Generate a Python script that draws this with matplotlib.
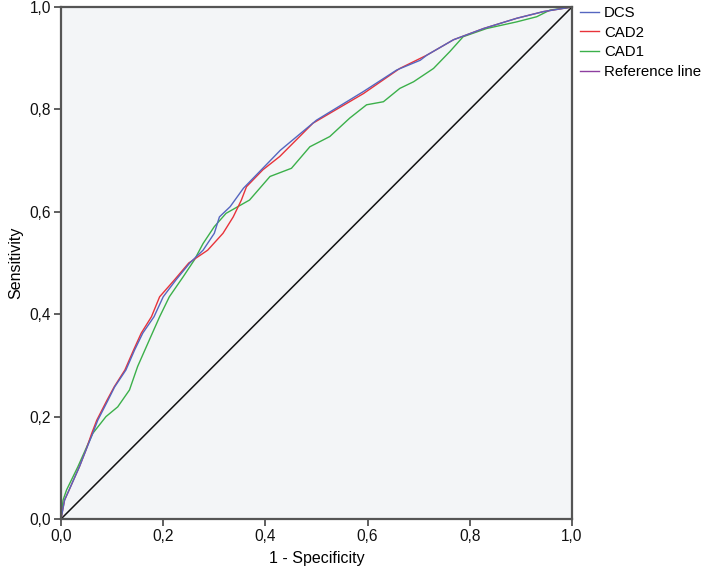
import matplotlib
matplotlib.use("Agg")
import matplotlib.pyplot as plt
from matplotlib.lines import Line2D
from matplotlib.ticker import FuncFormatter

plt.rcParams['font.family'] = ['Liberation Sans', 'DejaVu Sans']

# ROC points: (1 - specificity, sensitivity)
dcs_x = [0.0, 0.007, 0.016, 0.036, 0.049, 0.062, 0.072, 0.092, 0.105, 0.127, 0.144,
         0.160, 0.182, 0.200, 0.225, 0.252, 0.278, 0.300, 0.310, 0.331, 0.357, 0.429,
         0.500, 0.592, 0.657, 0.703, 0.716, 0.768, 0.827, 0.892, 0.944, 1.0]
dcs_y = [0.0, 0.037, 0.057, 0.102, 0.135, 0.167, 0.193, 0.232, 0.258, 0.291, 0.330,
         0.363, 0.395, 0.434, 0.467, 0.500, 0.525, 0.558, 0.590, 0.610, 0.646, 0.720,
         0.779, 0.835, 0.877, 0.896, 0.906, 0.936, 0.958, 0.978, 0.991, 1.0]

cad2_x = [0.0, 0.007, 0.016, 0.036, 0.049, 0.060, 0.070, 0.090, 0.104, 0.125, 0.142,
          0.157, 0.177, 0.193, 0.222, 0.250, 0.287, 0.317, 0.337, 0.353, 0.363, 0.395,
          0.428, 0.493, 0.592, 0.663, 0.716, 0.768, 0.827, 0.892, 0.944, 1.0]
cad2_y = [0.0, 0.037, 0.057, 0.102, 0.135, 0.167, 0.193, 0.232, 0.258, 0.291, 0.330,
          0.363, 0.395, 0.434, 0.467, 0.500, 0.525, 0.558, 0.590, 0.623, 0.649, 0.682,
          0.708, 0.773, 0.831, 0.880, 0.906, 0.936, 0.958, 0.978, 0.991, 1.0]

cad1_x = [0.0, 0.004, 0.011, 0.033, 0.062, 0.088, 0.111, 0.134, 0.150, 0.173, 0.193,
          0.212, 0.239, 0.261, 0.278, 0.300, 0.323, 0.369, 0.409, 0.451, 0.487, 0.526,
          0.565, 0.598, 0.631, 0.663, 0.690, 0.729, 0.761, 0.787, 0.833, 0.892, 0.931,
          0.957, 1.0]
cad1_y = [0.0, 0.037, 0.057, 0.102, 0.167, 0.200, 0.219, 0.252, 0.298, 0.350, 0.395,
          0.434, 0.473, 0.506, 0.538, 0.571, 0.597, 0.623, 0.669, 0.685, 0.727, 0.747,
          0.783, 0.809, 0.815, 0.841, 0.854, 0.880, 0.913, 0.942, 0.958, 0.971, 0.981,
          0.994, 1.0]

ref_x = [0.0, 1.0]
ref_y = [0.0, 1.0]

labels = ["DCS", "CAD2", "CAD1", "Reference line"]
colors = ["#5566c0", "#e8333a", "#3bb04a", "#8e3fa0"]

fig = plt.figure(figsize=(7.09, 5.68), dpi=100)
ax = fig.add_axes([61 / 709, 1 - 519 / 568, 511 / 709, 512 / 568])
ax.set_facecolor("#f3f5f7")

ax.plot(ref_x, ref_y, color="#111111", lw=1.1)
ax.plot(cad1_x, cad1_y, color=colors[2], lw=1.0)
ax.plot(cad2_x, cad2_y, color=colors[1], lw=1.0)
ax.plot(dcs_x, dcs_y, color=colors[0], lw=1.0)

ax.set_xlim(0, 1)
ax.set_ylim(0, 1)
ticks = [0, 0.2, 0.4, 0.6, 0.8, 1.0]
ax.set_xticks(ticks)
ax.set_yticks(ticks)
fmt = FuncFormatter(lambda v, p: f"{v:.1f}".replace(".", ","))
ax.xaxis.set_major_formatter(fmt)
ax.yaxis.set_major_formatter(fmt)
ax.tick_params(direction="out", length=5, width=1.2, color="#444444",
               labelsize=11.2, labelcolor="#111111", pad=2)
for s in ax.spines.values():
    s.set_color("#555555")
    s.set_linewidth(1.6)

ax.set_xlabel("1 - Specificity", fontsize=11.5, labelpad=5)
ax.set_ylabel("Sensitivity", fontsize=11.5, labelpad=5)

handles = [Line2D([], [], color=c, lw=1.0) for c in colors]
fig.legend(handles, labels, loc="upper left", bbox_to_anchor=(580 / 709, 1 - 6 / 568),
           frameon=False, fontsize=10.8, handlelength=1.25, handletextpad=0.35,
           labelspacing=0.38, borderaxespad=0, borderpad=0)

fig.savefig("out.png", dpi=100)
